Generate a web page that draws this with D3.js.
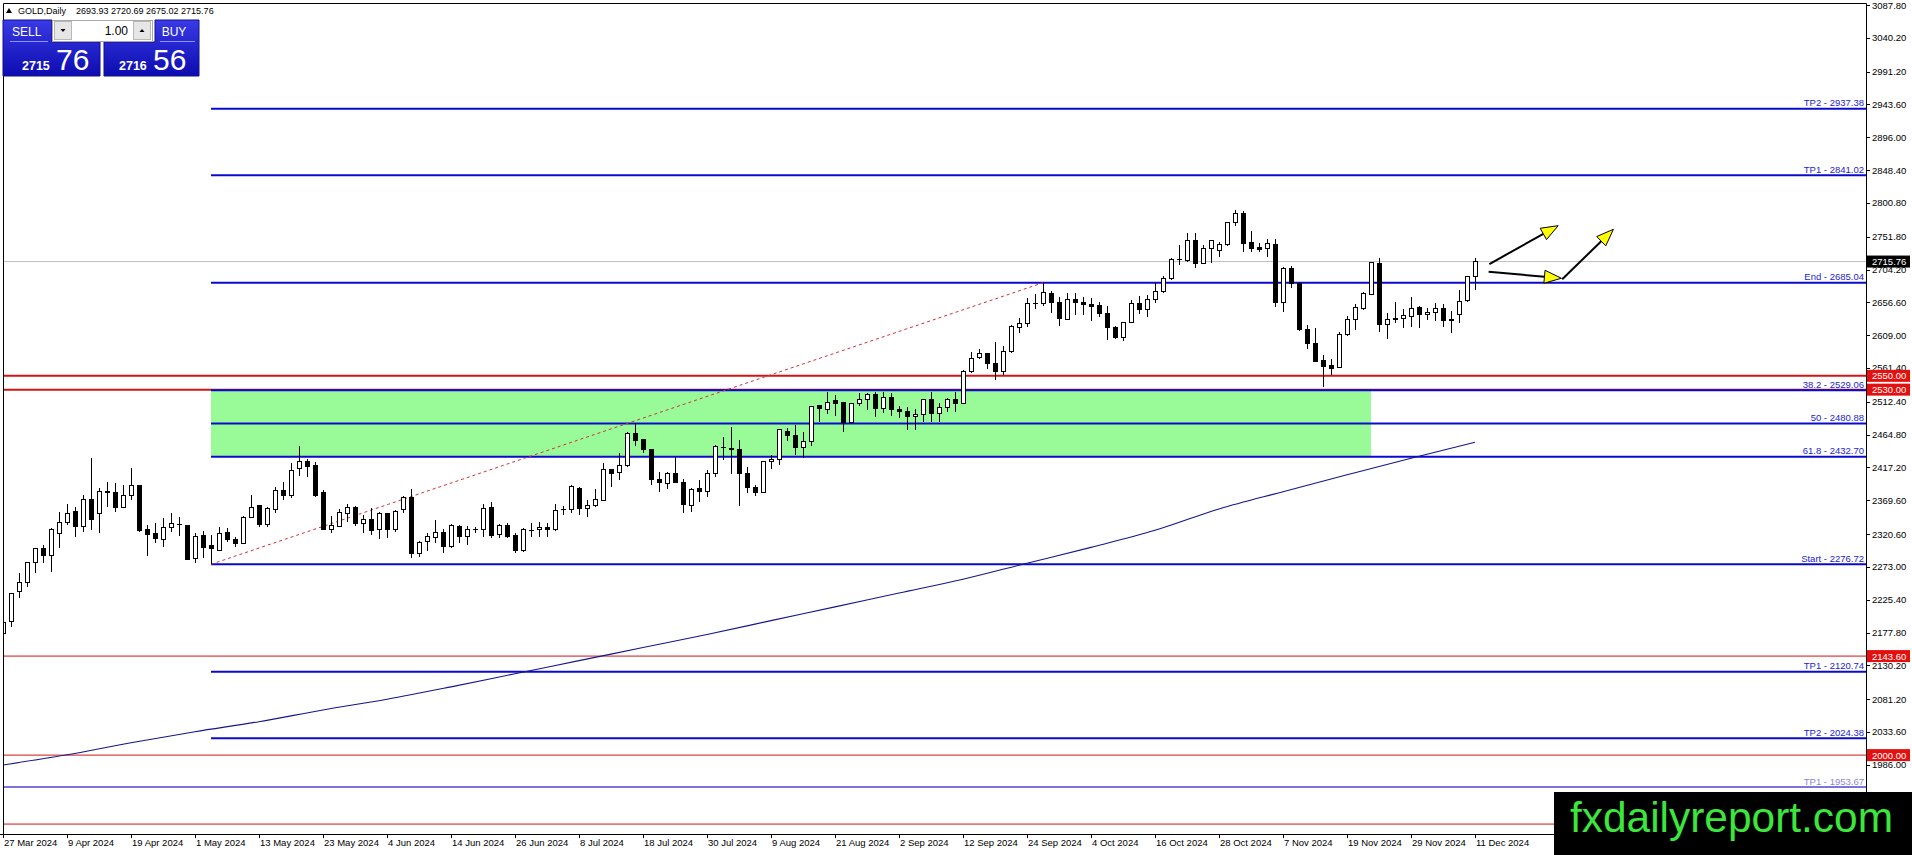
<!DOCTYPE html>
<html>
<head>
<meta charset="utf-8">
<script src="https://cdn.jsdelivr.net/npm/d3@7"></script>
<style>
  body { margin: 0; background: #fff; }
  svg { display: block; font-family: "Liberation Sans", Arial, sans-serif; }
</style>
</head>
<body>
<svg id="chart" width="1912" height="855"></svg>
<script>
// GOLD daily, 27 Mar 2024 -> 11 Dec 2024 (one bar per trading day)

// x axis labels, one every 8 bars
const dateLabels = ['27 Mar 2024', '9 Apr 2024', '19 Apr 2024', '1 May 2024', '13 May 2024', '23 May 2024',
  '4 Jun 2024', '14 Jun 2024', '26 Jun 2024', '8 Jul 2024', '18 Jul 2024', '30 Jul 2024', '9 Aug 2024',
  '21 Aug 2024', '2 Sep 2024', '12 Sep 2024', '24 Sep 2024', '4 Oct 2024', '16 Oct 2024', '28 Oct 2024',
  '7 Nov 2024', '19 Nov 2024', '29 Nov 2024', '11 Dec 2024']
const labelStep = 8

// OHLC
const opens = [2176.6, 2193.5, 2237.0, 2250.0, 2279.6, 2299.0, 2289.0, 2321.6, 2337.6, 2352.6,
  2331.3, 2371.0, 2350.6, 2381.0, 2381.0, 2359.3, 2376.7, 2391.0, 2326.5, 2321.6,
  2313.0, 2330.3, 2334.7, 2333.7, 2285.4, 2319.2, 2303.3, 2296.5, 2323.0, 2313.4,
  2307.0, 2344.8, 2362.2, 2334.7, 2356.5, 2384.0, 2375.8, 2415.9, 2426.5, 2420.7,
  2380.6, 2327.4, 2331.3, 2350.6, 2359.8, 2336.1, 2342.0, 2326.5, 2349.7, 2326.5,
  2355.5, 2373.8, 2292.6, 2309.6, 2315.8, 2323.5, 2302.3, 2331.3, 2316.8, 2327.4,
  2326.5, 2359.3, 2320.6, 2333.7, 2319.2, 2296.5, 2325.5, 2326.5, 2330.3, 2327.4,
  2355.5, 2355.5, 2386.9, 2357.9, 2361.7, 2369.0, 2414.4, 2409.6, 2419.3, 2466.6,
  2457.0, 2443.9, 2400.4, 2394.1, 2407.7, 2395.6, 2361.7, 2386.9, 2382.0, 2408.6,
  2446.0, 2444.9, 2442.5, 2408.6, 2388.3, 2380.6, 2426.5, 2429.0, 2470.0, 2463.8,
  2446.3, 2454.6, 2507.7, 2501.5, 2514.0, 2511.0, 2482.1, 2510.2, 2516.0, 2523.2,
  2502.9, 2518.8, 2501.4, 2499.0, 2490.8, 2494.2, 2515.0, 2495.6, 2504.3, 2515.0,
  2510.1, 2556.0, 2576.8, 2581.7, 2568.1, 2556.0, 2585.0, 2620.3, 2626.1, 2654.7,
  2654.7, 2669.6, 2656.6, 2631.9, 2661.0, 2656.6, 2653.7, 2651.3, 2640.6, 2620.3,
  2605.8, 2627.1, 2655.1, 2646.4, 2661.0, 2672.1, 2691.4, 2719.0, 2717.0, 2746.6,
  2713.2, 2735.0, 2732.5, 2739.8, 2772.7, 2785.7, 2743.7, 2735.9, 2735.0, 2740.8,
  2656.6, 2705.0, 2684.2, 2617.5, 2597.2, 2572.0, 2564.3, 2562.4, 2609.3, 2631.0,
  2648.0, 2668.2, 2713.2, 2623.8, 2631.0, 2633.4, 2635.9, 2649.4, 2638.3, 2642.1,
  2647.9, 2632.0, 2638.3, 2658.6, 2693.93]
const highs = [2196.0, 2235.6, 2263.6, 2279.5, 2301.0, 2304.7, 2328.9, 2353.0, 2364.0, 2360.0,
  2377.0, 2430.4, 2386.9, 2396.6, 2394.0, 2391.7, 2415.9, 2391.3, 2333.7, 2336.0,
  2343.4, 2350.6, 2344.8, 2334.0, 2322.6, 2325.5, 2319.2, 2330.3, 2329.0, 2316.8,
  2346.8, 2377.2, 2362.7, 2359.3, 2389.3, 2396.6, 2423.2, 2448.3, 2430.0, 2425.6,
  2384.5, 2346.8, 2357.0, 2363.7, 2361.3, 2348.0, 2357.9, 2353.0, 2350.6, 2355.5,
  2375.8, 2385.5, 2311.0, 2321.6, 2341.0, 2327.4, 2335.2, 2333.7, 2332.3, 2331.0,
  2364.2, 2367.6, 2334.5, 2337.1, 2322.6, 2328.9, 2337.0, 2338.5, 2337.0, 2364.2,
  2361.3, 2391.7, 2389.3, 2369.9, 2385.4, 2423.1, 2415.5, 2437.6, 2469.0, 2482.1,
  2457.5, 2444.5, 2411.0, 2411.0, 2431.8, 2400.0, 2386.9, 2399.0, 2413.5, 2449.7,
  2461.8, 2476.3, 2457.0, 2418.3, 2391.7, 2427.0, 2435.2, 2472.5, 2473.9, 2478.7,
  2469.0, 2506.3, 2508.2, 2527.1, 2522.0, 2511.5, 2511.0, 2524.6, 2525.6, 2527.1,
  2527.0, 2525.6, 2506.3, 2505.3, 2501.4, 2515.9, 2527.0, 2510.1, 2517.4, 2527.0,
  2558.5, 2585.0, 2588.4, 2583.6, 2599.6, 2593.3, 2623.7, 2633.4, 2663.4, 2668.2,
  2685.0, 2673.5, 2663.8, 2670.6, 2669.6, 2663.8, 2662.4, 2657.6, 2651.3, 2622.3,
  2628.6, 2660.0, 2665.8, 2667.2, 2684.1, 2694.8, 2721.4, 2739.8, 2756.5, 2756.7,
  2739.8, 2747.0, 2744.6, 2773.6, 2790.5, 2789.1, 2760.1, 2742.2, 2748.5, 2748.5,
  2708.4, 2709.8, 2686.0, 2623.8, 2619.0, 2580.3, 2574.0, 2613.1, 2637.3, 2653.7,
  2671.1, 2715.6, 2720.5, 2640.7, 2656.6, 2647.0, 2664.9, 2651.8, 2648.0, 2655.2,
  2653.7, 2644.1, 2674.5, 2694.8, 2720.69]
const lows = [2171.8, 2185.3, 2227.4, 2244.0, 2263.6, 2278.0, 2266.0, 2300.9, 2333.7, 2316.8,
  2324.0, 2326.5, 2322.6, 2360.3, 2353.0, 2358.5, 2370.0, 2324.0, 2288.8, 2307.0,
  2302.3, 2324.0, 2317.8, 2283.0, 2279.1, 2285.4, 2276.7, 2296.0, 2309.6, 2302.3,
  2306.2, 2343.4, 2331.3, 2331.3, 2350.6, 2370.0, 2372.4, 2404.8, 2402.9, 2374.8,
  2326.5, 2322.6, 2330.3, 2338.5, 2332.3, 2321.6, 2319.2, 2313.0, 2314.4, 2324.0,
  2351.6, 2285.4, 2286.8, 2296.5, 2308.1, 2293.6, 2299.9, 2308.1, 2304.7, 2322.6,
  2316.8, 2314.4, 2314.4, 2314.4, 2292.6, 2295.0, 2317.0, 2316.8, 2316.8, 2325.5,
  2348.2, 2351.6, 2348.2, 2345.8, 2360.3, 2369.0, 2389.3, 2399.0, 2418.3, 2448.3,
  2438.6, 2391.7, 2382.0, 2385.4, 2394.1, 2351.6, 2353.0, 2367.6, 2374.8, 2403.8,
  2428.0, 2407.7, 2361.3, 2379.6, 2375.8, 2379.6, 2414.4, 2420.7, 2456.0, 2435.2,
  2430.4, 2448.3, 2483.6, 2494.7, 2491.8, 2469.0, 2481.5, 2506.3, 2500.5, 2490.8,
  2495.6, 2491.8, 2488.4, 2471.5, 2471.5, 2483.5, 2483.5, 2483.5, 2498.0, 2498.0,
  2509.2, 2554.6, 2573.9, 2559.4, 2544.0, 2551.2, 2583.6, 2611.6, 2620.3, 2646.4,
  2651.3, 2640.6, 2622.3, 2631.0, 2638.2, 2638.2, 2630.0, 2635.8, 2602.0, 2603.0,
  2601.0, 2626.1, 2639.7, 2635.8, 2656.1, 2670.6, 2689.0, 2710.8, 2715.6, 2707.0,
  2712.2, 2713.2, 2722.9, 2738.8, 2767.8, 2729.2, 2730.1, 2729.2, 2722.9, 2650.4,
  2642.1, 2677.9, 2615.0, 2589.0, 2570.0, 2534.3, 2551.3, 2561.9, 2608.3, 2616.5,
  2645.5, 2667.3, 2613.1, 2603.5, 2626.2, 2619.0, 2621.4, 2619.9, 2631.0, 2629.6,
  2621.4, 2611.7, 2626.2, 2657.6, 2675.02]
const closes = [2192.1, 2233.7, 2250.6, 2279.0, 2299.0, 2289.0, 2327.9, 2337.6, 2350.6, 2331.3,
  2371.0, 2342.0, 2381.6, 2381.6, 2358.9, 2376.7, 2391.3, 2325.5, 2320.2, 2313.9,
  2330.3, 2336.0, 2334.9, 2284.0, 2316.8, 2301.3, 2299.9, 2321.6, 2313.0, 2307.0,
  2344.8, 2359.3, 2334.7, 2357.0, 2384.0, 2375.8, 2412.5, 2425.6, 2418.3, 2375.8,
  2327.4, 2332.3, 2352.0, 2359.8, 2335.2, 2342.0, 2325.5, 2349.7, 2326.5, 2354.0,
  2373.4, 2291.7, 2308.6, 2316.8, 2322.6, 2302.3, 2332.3, 2316.8, 2327.4, 2327.8,
  2357.9, 2319.2, 2333.7, 2316.8, 2296.5, 2326.5, 2326.0, 2330.3, 2327.4, 2354.5,
  2355.9, 2389.3, 2357.9, 2362.7, 2370.0, 2414.4, 2407.7, 2420.7, 2466.6, 2456.0,
  2443.4, 2399.0, 2395.6, 2407.7, 2395.1, 2363.7, 2385.4, 2382.0, 2408.6, 2447.3,
  2446.8, 2442.5, 2408.6, 2388.3, 2380.6, 2426.5, 2429.4, 2471.5, 2463.3, 2446.3,
  2454.6, 2505.3, 2502.9, 2511.6, 2510.2, 2482.1, 2510.2, 2516.0, 2523.2, 2502.9,
  2518.8, 2500.5, 2498.0, 2490.8, 2494.2, 2515.0, 2495.6, 2504.3, 2515.0, 2509.2,
  2556.5, 2575.4, 2581.7, 2568.1, 2556.0, 2585.0, 2621.3, 2626.1, 2655.1, 2655.0,
  2670.6, 2656.1, 2633.4, 2661.0, 2656.1, 2653.7, 2650.3, 2640.6, 2620.3, 2605.8,
  2627.1, 2655.1, 2646.4, 2661.0, 2672.1, 2691.4, 2719.0, 2718.5, 2746.6, 2713.2,
  2735.0, 2745.6, 2740.8, 2772.7, 2785.7, 2742.2, 2735.0, 2733.5, 2742.2, 2656.6,
  2705.0, 2684.2, 2616.5, 2597.2, 2570.6, 2563.3, 2561.0, 2610.2, 2631.0, 2648.9,
  2668.7, 2714.7, 2623.8, 2631.0, 2633.4, 2637.3, 2648.0, 2638.3, 2642.1, 2647.9,
  2630.1, 2630.1, 2657.6, 2693.9, 2715.76]

// moving average, sampled every 8 bars
const maBars = [0, 8, 16, 24, 32, 40, 48, 56, 64, 72, 80, 88, 96, 104, 112, 120, 128, 136, 144, 152, 160, 168, 176, 184]
const maValues = [1985.7, 2000.5, 2018.0, 2034.0, 2048.5, 2065.5, 2081.0, 2099.0, 2118.0, 2137.0, 2156.0, 2175.0,
  2195.0, 2215.0, 2235.0, 2255.0, 2278.3, 2301.3, 2326.0, 2357.0, 2382.0, 2406.5, 2430.6, 2453.6]

// price scale labels (right)
const priceTicks = ['3087.80', '3040.20', '2991.20', '2943.60', '2896.00', '2848.40', '2800.80', '2751.80',
  '2704.20', '2656.60', '2609.00', '2561.40', '2512.40', '2464.80', '2417.20', '2369.60', '2320.60',
  '2273.00', '2225.40', '2177.80', '2130.20', '2081.20', '2033.60', '1986.00']

// fibonacci levels, drawn from the Start bar to the right edge
const fiboStartBar = 26
const fiboEndBar = 130
const fiboNames = ['TP2', 'TP1', 'End', '38.2', '50', '61.8', 'Start', 'TP1', 'TP2']
const fiboValues = [2937.38, 2841.02, 2685.04, 2529.06, 2480.88, 2432.70, 2276.72, 2120.74, 2024.38]
// second, lighter level from the left edge
const extraName = 'TP1'
const extraValue = 1953.67

// horizontal support / resistance lines (red); the last one has its label hidden under the watermark
const redValues = [2550.00, 2530.00, 2143.60, 2000.00, 1900.00]
const redThick = [true, true, false, false, false]
const redLabelled = [true, true, true, true, false]

// zone rectangle
const zoneBars = [26, 171]
const zoneValues = [2529.06, 2432.70]

// current price
const lastPrice = 2715.76
const header = ['GOLD,Daily', '2693.93 2720.69 2675.02 2715.76']

// projection arrows [bar0, price0, bar1, price1]
const arrows = [
  [185.8, 2712.2, 194.4, 2767.8],
  [185.7, 2701.0, 194.8, 2691.5],
  [194.9, 2690.0, 201.3, 2762.5]
]

// --- drawing ---
let svg = d3.select('#chart')
const L = 3, R = 1866, T = 3, B = 834
const blue = '#0a0acd'
const red = '#d21414'

let x = d3.scaleLinear().domain([0, 184]).range([3, 1475])
let y = d3.scaleLinear().domain([1885.6, 3087.8]).range([B, 5])

svg.append('rect').attr('width', 1912).attr('height', 855).attr('fill', '#fff')

let defs = svg.append('defs')
defs.append('clipPath').attr('id', 'plot')
    .append('rect').attr('x', L).attr('y', T).attr('width', R - L).attr('height', B - T)
let grad = defs.append('linearGradient').attr('id', 'panelGrad')
    .attr('x1', 0).attr('y1', 0).attr('x2', 0).attr('y2', 1)
grad.append('stop').attr('offset', '0%').attr('stop-color', '#3a3ae6')
grad.append('stop').attr('offset', '100%').attr('stop-color', '#0c0cb0')

let plot = svg.append('g').attr('clip-path', 'url(#plot)')

// zone
plot.append('rect')
    .attr('x', x(zoneBars[0])).attr('width', x(zoneBars[1]) - x(zoneBars[0]))
    .attr('y', y(zoneValues[0])).attr('height', y(zoneValues[1]) - y(zoneValues[0]))
    .attr('fill', '#98fb98')

// current price line
plot.append('line')
    .attr('x1', L).attr('x2', R).attr('y1', y(lastPrice)).attr('y2', y(lastPrice))
    .attr('stroke', '#c0c0c0').attr('stroke-width', 1)

// red lines
plot.selectAll('line.red')
    .data(redValues)
    .enter()
    .append('line')
    .attr('class', 'red')
    .attr('x1', L).attr('x2', R)
    .attr('y1', d => y(d)).attr('y2', d => y(d))
    .attr('stroke', red)
    .attr('stroke-width', (d, i) => redThick[i] ? 2 : 1)

// fibo lines
plot.selectAll('line.fibo')
    .data(fiboValues)
    .enter()
    .append('line')
    .attr('class', 'fibo')
    .attr('x1', x(fiboStartBar)).attr('x2', R)
    .attr('y1', d => y(d)).attr('y2', d => y(d))
    .attr('stroke', blue).attr('stroke-width', 2)

plot.append('line')
    .attr('x1', L).attr('x2', R).attr('y1', y(extraValue)).attr('y2', y(extraValue))
    .attr('stroke', '#7b74e0').attr('stroke-width', 2)

// moving average
let maLine = d3.line()
    .x((d, i) => x(maBars[i]))
    .y(d => y(d))
    .curve(d3.curveMonotoneX)
plot.append('path')
    .attr('d', maLine(maValues))
    .attr('fill', 'none').attr('stroke', '#15158f').attr('stroke-width', 1.1)

// fibo trend line
plot.append('line')
    .attr('x1', x(fiboStartBar)).attr('y1', y(fiboValues[6]))
    .attr('x2', x(fiboEndBar)).attr('y2', y(fiboValues[2]))
    .attr('stroke', '#d0303a').attr('stroke-width', 1).attr('stroke-dasharray', '3,3')

// candles
let bars = d3.range(opens.length)
let candles = plot.append('g').attr('shape-rendering', 'crispEdges')
candles.selectAll('line')
    .data(bars)
    .enter()
    .append('line')
    .attr('x1', i => Math.round(x(i)) + 0.5).attr('x2', i => Math.round(x(i)) + 0.5)
    .attr('y1', i => y(highs[i])).attr('y2', i => y(lows[i]))
    .attr('stroke', '#000')
candles.selectAll('rect')
    .data(bars)
    .enter()
    .append('rect')
    .attr('x', i => Math.round(x(i)) - 1.5)
    .attr('width', 4)
    .attr('y', i => y(Math.max(opens[i], closes[i])))
    .attr('height', i => Math.max(0.1, Math.abs(y(opens[i]) - y(closes[i]))))
    .attr('fill', i => closes[i] >= opens[i] ? '#fff' : '#000')
    .attr('stroke', '#000')

// arrows
arrows.forEach(a => {
    let x0 = x(a[0]), y0 = y(a[1]), x1 = x(a[2]), y1 = y(a[3])
    let ang = Math.atan2(y1 - y0, x1 - x0)
    let len = 17, half = 6.5
    let bx = x1 - len * Math.cos(ang), by = y1 - len * Math.sin(ang)
    plot.append('line')
        .attr('x1', x0).attr('y1', y0).attr('x2', bx).attr('y2', by)
        .attr('stroke', '#000').attr('stroke-width', 2)
    let pts = [[x1, y1],
               [bx + half * Math.sin(ang), by - half * Math.cos(ang)],
               [bx - half * Math.sin(ang), by + half * Math.cos(ang)]]
    plot.append('polygon')
        .attr('points', pts.map(p => p.join(',')).join(' '))
        .attr('fill', '#ffff00').attr('stroke', '#000').attr('stroke-width', 1)
})

// level labels
svg.selectAll('text.fibo')
    .data(fiboValues)
    .enter()
    .append('text')
    .attr('class', 'fibo')
    .attr('x', R - 2).attr('y', d => y(d) - 2.5)
    .attr('text-anchor', 'end')
    .attr('font-size', 9.5)
    .attr('fill', '#1c1cd0')
    .text((d, i) => fiboNames[i] + ' - ' + d.toFixed(2))
svg.append('text')
    .attr('x', R - 2).attr('y', y(extraValue) - 2.5)
    .attr('text-anchor', 'end').attr('font-size', 9.5).attr('fill', '#8a84e4')
    .text(extraName + ' - ' + extraValue.toFixed(2))

// frame
svg.append('path')
    .attr('d', `M${L + 0.5},${B}V${T + 0.5}H${R + 0.5}V${B + 0.5}H0`)
    .attr('fill', 'none').attr('stroke', '#000').attr('stroke-width', 1)

// price axis
let yAxis = svg.append('g').attr('font-size', 9.5)
yAxis.selectAll('line')
    .data(priceTicks)
    .enter()
    .append('line')
    .attr('x1', R).attr('x2', R + 4)
    .attr('y1', d => Math.round(y(+d)) + 0.5).attr('y2', d => Math.round(y(+d)) + 0.5)
    .attr('stroke', '#000')
yAxis.selectAll('text')
    .data(priceTicks)
    .enter()
    .append('text')
    .attr('x', R + 6).attr('y', d => y(+d) + 3.5)
    .attr('fill', '#000')
    .text(d => d)

// price boxes on the scale
let boxes = redValues.filter((v, i) => redLabelled[i]).map(v => ({ v: v, bg: '#e41010' }))
boxes.push({ v: lastPrice, bg: '#000' })
let boxG = svg.append('g')
boxG.selectAll('rect')
    .data(boxes)
    .enter()
    .append('rect')
    .attr('x', R + 1).attr('width', 43)
    .attr('y', d => y(d.v) - 6).attr('height', 12)
    .attr('fill', d => d.bg)
boxG.selectAll('text')
    .data(boxes)
    .enter()
    .append('text')
    .attr('x', R + 6).attr('y', d => y(d.v) + 3.5)
    .attr('font-size', 9.5).attr('fill', '#fff')
    .text(d => d.v.toFixed(2))

// time axis
let xAxis = svg.append('g').attr('font-size', 9.5)
xAxis.selectAll('line')
    .data(dateLabels)
    .enter()
    .append('line')
    .attr('x1', (d, k) => Math.round(x(k * labelStep)) + 0.5)
    .attr('x2', (d, k) => Math.round(x(k * labelStep)) + 0.5)
    .attr('y1', B).attr('y2', B + 4)
    .attr('stroke', '#000')
xAxis.selectAll('text')
    .data(dateLabels)
    .enter()
    .append('text')
    .attr('x', (d, k) => x(k * labelStep) + 1)
    .attr('y', B + 12)
    .attr('fill', '#000')
    .text(d => d)

// header line
svg.append('path').attr('d', 'M6,13 L12,13 L9,8 Z').attr('fill', '#000')
svg.append('text').attr('x', 18).attr('y', 14).attr('font-size', 9).text(header[0])
svg.append('text').attr('x', 76).attr('y', 14).attr('font-size', 9).text(header[1])

// one click trading panel
let panel = svg.append('g')
panel.append('path')
     .attr('d', 'M3,20 H52 V42 H100 V76 H3 Z')
     .attr('fill', 'url(#panelGrad)').attr('stroke', '#10108a')
panel.append('path')
     .attr('d', 'M155,20 H199 V76 H104 V42 H155 Z')
     .attr('fill', 'url(#panelGrad)').attr('stroke', '#10108a')
panel.append('line').attr('x1', 10).attr('x2', 48).attr('y1', 41.5).attr('y2', 41.5).attr('stroke', '#9090f0')
panel.append('line').attr('x1', 160).attr('x2', 195).attr('y1', 41.5).attr('y2', 41.5).attr('stroke', '#9090f0')
panel.append('rect').attr('x', 52.5).attr('y', 20.5).attr('width', 100).attr('height', 21)
     .attr('fill', '#fff').attr('stroke', '#a8a8a8')
panel.append('rect').attr('x', 54.5).attr('y', 21.5).attr('width', 17).attr('height', 18)
     .attr('fill', '#e6e6e6').attr('stroke', '#b8b8b8')
panel.append('rect').attr('x', 133.5).attr('y', 21.5).attr('width', 17).attr('height', 18)
     .attr('fill', '#e6e6e6').attr('stroke', '#b8b8b8')
panel.append('path').attr('d', 'M60.5,29 H65.5 L63,32 Z').attr('fill', '#000')
panel.append('path').attr('d', 'M139.5,32 H144.5 L142,29 Z').attr('fill', '#000')
panel.append('text').attr('x', 128).attr('y', 35).attr('text-anchor', 'end')
     .attr('font-size', 12).attr('fill', '#000').text('1.00')
panel.append('text').attr('x', 26.7).attr('y', 35.5).attr('text-anchor', 'middle')
     .attr('font-size', 12).attr('fill', '#fff').text('SELL')
panel.append('text').attr('x', 174).attr('y', 35.5).attr('text-anchor', 'middle')
     .attr('font-size', 12).attr('fill', '#fff').text('BUY')
let sellPrice = lastPrice.toFixed(2).split('.')
let buyPrice = (lastPrice + 0.80).toFixed(2).split('.')
panel.append('text').attr('x', 22).attr('y', 70).attr('font-size', 12.5).attr('font-weight', 'bold')
     .attr('fill', '#fff').text(sellPrice[0])
panel.append('text').attr('x', 56).attr('y', 70).attr('font-size', 30).attr('fill', '#fff').text(sellPrice[1])
panel.append('text').attr('x', 119).attr('y', 70).attr('font-size', 12.5).attr('font-weight', 'bold')
     .attr('fill', '#fff').text(buyPrice[0])
panel.append('text').attr('x', 153).attr('y', 70).attr('font-size', 30).attr('fill', '#fff').text(buyPrice[1])

// watermark
svg.append('rect').attr('x', 1554).attr('y', 792).attr('width', 358).attr('height', 63).attr('fill', '#000')
svg.append('text').attr('x', 1570).attr('y', 832)
   .attr('font-size', 42).attr('fill', '#3ce63c')
   .attr('textLength', 323).attr('lengthAdjust', 'spacingAndGlyphs')
   .text('fxdailyreport.com')
</script>
</body>
</html>
